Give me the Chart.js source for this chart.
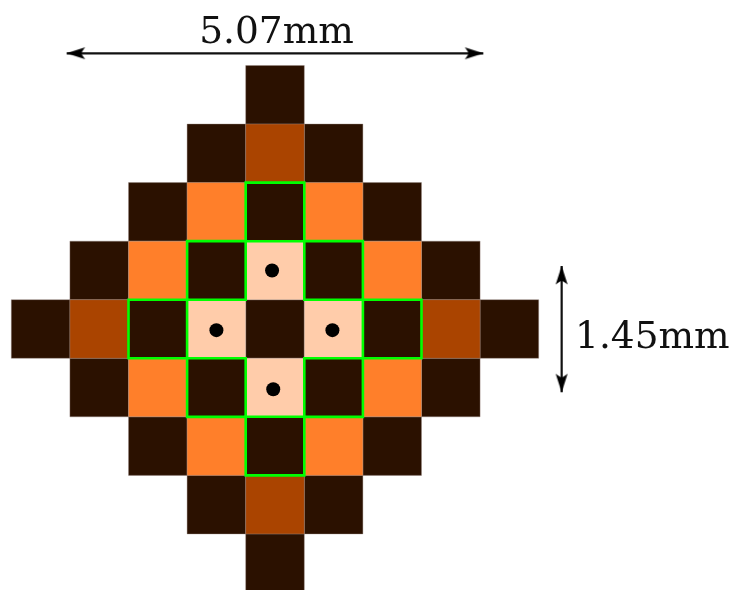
<!DOCTYPE html>
<html>
<head>
<meta charset="utf-8">
<title>Pixel diamond</title>
<script src="https://cdn.jsdelivr.net/npm/chart.js@4"></script>
<style>
html,body{margin:0;padding:0;background:#fff;overflow:hidden}
canvas{display:block}
</style>
</head>
<body>
<canvas id="c" width="733" height="590"></canvas>
<script>
// Cells, in grid units from the centre of the diamond
const darkCellsX = [0, -1, 1, -2, 2, -3, 3, -4, 4, -3, 3, -2, 2, -1, 1, 0, 0];
const darkCellsY = [4, 3, 3, 2, 2, 1, 1, 0, 0, -1, -1, -2, -2, -3, -3, -4, 0];
const brownCellsX = [0, -3, 3, 0];
const brownCellsY = [3, 0, 0, -3];
const orangeCellsX = [-1, 1, -2, 2, -2, 2, -1, 1];
const orangeCellsY = [2, 2, 1, 1, -1, -1, -2, -2];
const peachCellsX = [0, -1, 1, 0];
const peachCellsY = [1, 0, 0, -1];
const outlinedCellsX = [0, -1, 1, -2, 2, -1, 1, 0];
const outlinedCellsY = [2, 1, 1, 0, 0, -1, -1, -2];
const dotsX = [-0.05, -1.0, 0.98, -0.03];
const dotsY = [1.0, -0.02, -0.02, -1.03];
// Dimension arrows and their labels
const widthArrowX = [-3.555, 3.555];
const widthArrowY = [4.709, 4.709];
const heightArrowX = [4.892, 4.892];
const heightArrowY = [1.076, -1.081];
const labelTexts = ['5.07mm', '1.45mm'];
const labelX = [0.026, 6.44];
const labelY = [4.88, -0.319];

const zip = (xs, ys) => xs.map((x, i) => ({ x, y: ys[i] }));

function arrowHead() {
  const cv = document.createElement('canvas');
  cv.width = 40; cv.height = 16;
  const g = cv.getContext('2d');
  g.fillStyle = '#000';
  g.beginPath();
  g.moveTo(20, 8);
  g.lineTo(1.4, 2);
  g.quadraticCurveTo(5, 6.5, 5, 8);
  g.quadraticCurveTo(5, 9.5, 1.4, 14);
  g.closePath();
  g.fill();
  return cv;
}

const cellRadius = ctx => {
  const s = ctx.chart.scales.x;
  return (s.getPixelForValue(1) - s.getPixelForValue(0)) * Math.SQRT1_2;
};

const cellSet = (xs, ys, fill, order, edge, edgeWidth) => ({
  data: zip(xs, ys),
  showLine: false,
  order,
  pointStyle: 'rect',
  pointRadius: cellRadius,
  pointBackgroundColor: fill,
  pointBorderColor: edge,
  pointBorderWidth: edgeWidth
});

const head = arrowHead();
const arrowSet = (xs, ys, rotation, order) => ({
  data: zip(xs, ys),
  showLine: true,
  order,
  borderColor: '#111',
  borderWidth: 2.2,
  pointStyle: head,
  pointRotation: rotation
});

const edge = 'rgba(150,135,125,0.38)';

const labelsPlugin = {
  id: 'dimensionLabels',
  afterDatasetsDraw(chart) {
    const { ctx, scales } = chart;
    ctx.save();
    ctx.font = '37.5px "DejaVu Serif"';
    ctx.fillStyle = '#111';
    ctx.textAlign = 'center';
    ctx.textBaseline = 'alphabetic';
    labelTexts.forEach((t, i) => {
      ctx.fillText(t, scales.x.getPixelForValue(labelX[i]), scales.y.getPixelForValue(labelY[i]));
    });
    ctx.restore();
  }
};

new Chart(document.getElementById('c'), {
  type: 'scatter',
  data: {
    datasets: [
      arrowSet(widthArrowX, widthArrowY, [180, 0], 0),
      arrowSet(heightArrowX, heightArrowY, [-90, 90], 1),
      {
        data: zip(dotsX, dotsY),
        showLine: false,
        order: 2,
        pointStyle: 'circle',
        pointRadius: 7,
        pointBackgroundColor: '#000',
        pointBorderWidth: 0
      },
      cellSet(outlinedCellsX, outlinedCellsY, '#2b1100', 3, '#00ff00', 2.6),
      cellSet(peachCellsX, peachCellsY, '#ffccaa', 4, edge, 1),
      cellSet(orangeCellsX, orangeCellsY, '#ff7f2a', 5, edge, 1),
      cellSet(brownCellsX, brownCellsY, '#aa4400', 6, edge, 1),
      cellSet(darkCellsX, darkCellsY, '#2b1100', 7, edge, 1)
    ]
  },
  options: {
    responsive: false,
    animation: false,
    events: [],
    layout: { padding: 0, autoPadding: false },
    plugins: { legend: { display: false }, tooltip: { enabled: false }, title: { display: false } },
    scales: {
      x: { type: 'linear', display: false, min: -4.693, max: 7.816 },
      y: { type: 'linear', display: false, min: -4.458, max: 5.619 }
    }
  },
  plugins: [labelsPlugin]
});
</script>
</body>
</html>
